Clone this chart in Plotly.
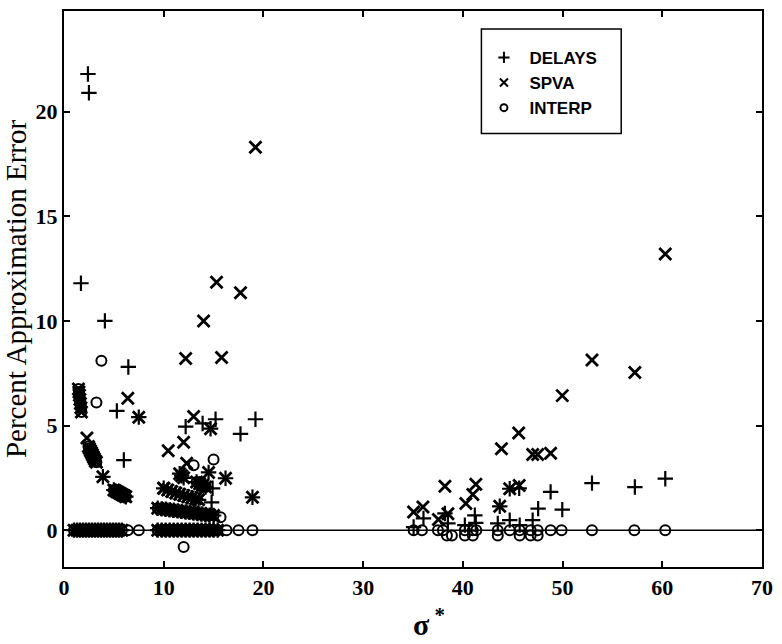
import plotly.graph_objects as go

# ---- DELAYS (+) ----
delays_x = [2.4, 2.5, 1.7, 4.1, 6.45, 5.3, 6.0, 7.5, 3.9,
            12.2, 13.9, 15.2, 17.7, 19.2, 14.8, 14.7, 14.5, 16.2, 18.9, 14.9,
            5.0, 5.15, 5.3, 5.45, 5.6, 5.75, 5.9, 6.05, 6.2,
            10.0, 10.4, 10.8, 11.2, 11.6, 12.0, 12.4, 12.8, 13.2, 13.5,
            9.4, 9.8, 10.2, 10.6, 11.0, 11.4, 11.8, 12.2, 12.6, 13.0, 13.4, 13.8, 14.2, 14.6, 15.0,
            11.6, 11.8, 12.0, 13.3, 13.6, 13.9, 14.2,
            1.0, 1.3, 1.6, 1.9, 2.2, 2.5, 2.8, 3.1, 3.4, 3.7, 4.0, 4.3, 4.6, 4.9, 5.2, 5.5, 5.8,
            9.4, 9.8, 10.2, 10.6, 11.0, 11.4, 11.8, 12.2, 12.6, 13.0, 13.4, 13.8, 14.2, 14.6, 15.0, 15.4,
            60.3, 52.95, 57.25, 48.8, 49.97, 47.55, 47.0, 45.65, 44.7, 44.7, 43.7, 43.5,
            41.2, 40.2, 38.5, 36.05, 35.06, 45.7, 38.2, 41.3]
delays_y = [21.8, 20.9, 11.8, 10.0, 7.8, 5.7, 3.35, 5.4, 2.55,
            4.95, 5.1, 5.3, 4.6, 5.3, 1.33, 4.85, 2.76, 2.48, 1.57, 2.0,
            1.92, 1.88, 1.84, 1.8, 1.76, 1.72, 1.68, 1.64, 1.6,
            2.0, 1.92, 1.85, 1.78, 1.72, 1.66, 1.6, 1.55, 1.5, 1.45,
            1.05, 1.02, 1.0, 0.97, 0.95, 0.92, 0.9, 0.87, 0.85, 0.82, 0.8, 0.77, 0.75, 0.72, 0.7,
            2.7, 2.6, 2.5, 2.3, 2.22, 2.14, 2.06,
            0, 0, 0, 0, 0, 0, 0, 0, 0, 0, 0, 0, 0, 0, 0, 0, 0,
            0, 0, 0, 0, 0, 0, 0, 0, 0, 0, 0, 0, 0, 0, 0, 0,
            2.46, 2.25, 2.06, 1.83, 0.98, 1.03, 0.48, 2.0, 1.98, 0.48, 1.14, 0.32,
            0.71, 0.24, 0.32, 0.56, 0.15, 0.24, 0.8, 0.35]

# ---- SPVA (x) ----
spva_x = [19.2, 15.3, 17.7, 14.0, 12.2, 15.8, 6.4, 7.5, 13.0, 14.7, 12.0, 10.45,
          12.3, 14.5, 16.2, 18.9, 2.3, 3.9, 10.0,
          1.45, 1.5, 1.55, 1.6, 1.65, 1.7, 1.75,
          2.45, 2.55, 2.65, 2.75, 2.85, 2.95, 3.05, 3.15, 3.25,
          5.0, 5.15, 5.3, 5.45, 5.6, 5.75, 5.9, 6.05, 6.2,
          10.0, 10.4, 10.8, 11.2, 11.6, 12.0, 12.4, 12.8, 13.2, 13.5,
          9.4, 9.8, 10.2, 10.6, 11.0, 11.4, 11.8, 12.2, 12.6, 13.0, 13.4, 13.8, 14.2, 14.6, 15.0,
          11.6, 11.8, 12.0, 13.3, 13.6, 13.9, 14.2,
          1.0, 1.3, 1.6, 1.9, 2.2, 2.5, 2.8, 3.1, 3.4, 3.7, 4.0, 4.3, 4.6, 4.9, 5.2, 5.5, 5.8,
          9.4, 9.8, 10.2, 10.6, 11.0, 11.4, 11.8, 12.2, 12.6, 13.0, 13.4, 13.8, 14.2, 14.6, 15.0, 15.4,
          60.3, 52.95, 57.25, 49.97, 45.6, 43.87, 47.0, 47.5, 48.8, 38.2, 41.3, 41.0,
          40.3, 44.7, 45.65, 43.7, 35.06, 36.0, 37.55, 38.5]
spva_y = [18.3, 11.85, 11.35, 10.0, 8.2, 8.25, 6.3, 5.4, 5.43, 4.85, 4.2, 3.8,
          3.2, 2.76, 2.48, 1.57, 4.4, 2.55, 2.0,
          6.75, 6.6, 6.45, 6.25, 6.05, 5.85, 5.65,
          4.0, 3.9, 3.8, 3.7, 3.6, 3.5, 3.4, 3.3, 3.25,
          1.92, 1.88, 1.84, 1.8, 1.76, 1.72, 1.68, 1.64, 1.6,
          2.0, 1.92, 1.85, 1.78, 1.72, 1.66, 1.6, 1.55, 1.5, 1.45,
          1.05, 1.02, 1.0, 0.97, 0.95, 0.92, 0.9, 0.87, 0.85, 0.82, 0.8, 0.77, 0.75, 0.72, 0.7,
          2.7, 2.6, 2.5, 2.3, 2.22, 2.14, 2.06,
          0, 0, 0, 0, 0, 0, 0, 0, 0, 0, 0, 0, 0, 0, 0, 0, 0,
          0, 0, 0, 0, 0, 0, 0, 0, 0, 0, 0, 0, 0, 0, 0, 0,
          13.2, 8.13, 7.54, 6.43, 4.64, 3.89, 3.62, 3.62, 3.68, 2.1, 2.19, 1.71,
          1.28, 1.98, 2.14, 1.14, 0.87, 1.11, 0.51, 0.79]

# ---- INTERP (o) ----
interp_x = [3.75, 3.25, 13.0, 15.0, 15.7, 12.0,
            1.45, 1.5, 1.55, 1.6, 1.65, 1.7, 1.75,
            2.45, 2.55, 2.65, 2.75, 2.85, 2.95, 3.05, 3.15, 3.25,
            5.0, 5.15, 5.3, 5.45, 5.6, 5.75, 5.9, 6.05, 6.2,
            9.4, 9.8, 10.2, 10.6, 11.0, 11.4, 11.8, 12.2, 12.6, 13.0, 13.4, 13.8, 14.2, 14.6, 15.0,
            13.3, 13.6, 13.9, 14.2,
            1.0, 1.3, 1.6, 1.9, 2.2, 2.5, 2.8, 3.1, 3.4, 3.7, 4.0, 4.3, 4.6, 4.9, 5.2, 5.5, 5.8, 6.4, 7.5,
            9.4, 9.8, 10.2, 10.6, 11.0, 11.4, 11.8, 12.2, 12.6, 13.0, 13.4, 13.8, 14.2, 14.6, 15.0, 15.4,
            16.3, 17.5, 18.9,
            35.06, 35.9, 37.5, 38.0, 40.2, 41.0, 41.35, 43.5, 44.7, 45.7, 46.8, 47.5,
            48.8, 49.9, 52.95, 57.2, 60.3,
            38.4, 38.9, 40.2, 41.0, 43.5, 45.7, 46.8, 47.5]
interp_y = [8.1, 6.1, 3.1, 3.38, 0.62, -0.8,
            6.75, 6.6, 6.45, 6.25, 6.05, 5.85, 5.65,
            4.0, 3.9, 3.8, 3.7, 3.6, 3.5, 3.4, 3.3, 3.25,
            1.92, 1.88, 1.84, 1.8, 1.76, 1.72, 1.68, 1.64, 1.6,
            1.05, 1.02, 1.0, 0.97, 0.95, 0.92, 0.9, 0.87, 0.85, 0.82, 0.8, 0.77, 0.75, 0.72, 0.7,
            2.3, 2.22, 2.14, 2.06,
            0, 0, 0, 0, 0, 0, 0, 0, 0, 0, 0, 0, 0, 0, 0, 0, 0, 0, 0,
            0, 0, 0, 0, 0, 0, 0, 0, 0, 0, 0, 0, 0, 0, 0, 0,
            0, 0, 0,
            0, 0, 0, 0, 0, 0, 0, 0, 0, 0, 0, 0,
            0, 0, 0, 0, 0,
            -0.25, -0.25, -0.25, -0.25, -0.25, -0.25, -0.25, -0.25]

x_ticks = [0, 10, 20, 30, 40, 50, 60, 70]
y_ticks = [0, 5, 10, 15, 20]

series = [
    ("DELAYS", delays_x, delays_y, "cross-thin", 11, 2.2, 8),
    ("SPVA", spva_x, spva_y, "x-thin", 12, 2.8, 8),
    ("INTERP", interp_x, interp_y, "circle-open", 10, 2, 7),
]

fig = go.Figure()
for name, xs, ys, sym, size, lw, key_size in series:
    # plotted marks
    fig.add_trace(go.Scatter(
        x=xs, y=ys, mode="markers", name=name, showlegend=False,
        marker=dict(symbol=sym, size=size, color="black",
                    line=dict(width=lw, color="black"))))
    # smaller key symbol for the legend box
    fig.add_trace(go.Scatter(
        x=[None], y=[None], mode="markers", name=name,
        marker=dict(symbol=sym, size=key_size, color="black",
                    line=dict(width=2, color="black"))))

axis_common = dict(
    showline=True, linewidth=2, linecolor="black", mirror="ticks",
    ticks="inside", ticklen=6, tickwidth=1.5, tickcolor="black",
    showgrid=False, zeroline=False,
    tickfont=dict(family="Liberation Serif", size=22, color="black", weight="bold"),
)

fig.update_layout(
    width=782, height=644,
    margin=dict(l=64, r=14, t=9, b=77),
    paper_bgcolor="white", plot_bgcolor="white",
    xaxis=dict(range=[0, 70], tickvals=x_ticks, **axis_common),
    yaxis=dict(range=[-1.76, 24.81], tickvals=y_ticks,
               title=dict(text="Percent Approximation Error", standoff=4,
                          font=dict(family="Liberation Serif", size=29, color="black")),
               **axis_common),
    legend=dict(x=(482 - 64) / 704, y=(567 - 38) / 558, xanchor="left", yanchor="top",
                bgcolor="rgba(0,0,0,0)", borderwidth=0, itemwidth=41, tracegroupgap=0,
                font=dict(family="Liberation Sans", size=17, color="black", weight="bold")),
    annotations=[
        dict(text="σ<sup> *</sup>", xref="paper", yref="paper",
             x=(432 - 64) / 704, y=(567 - 643) / 558, xanchor="center", yanchor="bottom",
             showarrow=False,
             font=dict(family="Liberation Serif", size=30, color="black", weight="bold")),
    ],
    shapes=[
        dict(type="line", xref="x", yref="y", x0=0, x1=70, y0=0, y1=0,
             line=dict(color="black", width=1.5), layer="below"),
        dict(type="rect", xref="paper", yref="paper",
             x0=(485 - 64) / 704, x1=(626 - 64) / 704,
             y0=(567 - 132) / 558, y1=(567 - 27) / 558,
             line=dict(color="black", width=1.5)),
    ],
)

fig.write_html("out.html")
